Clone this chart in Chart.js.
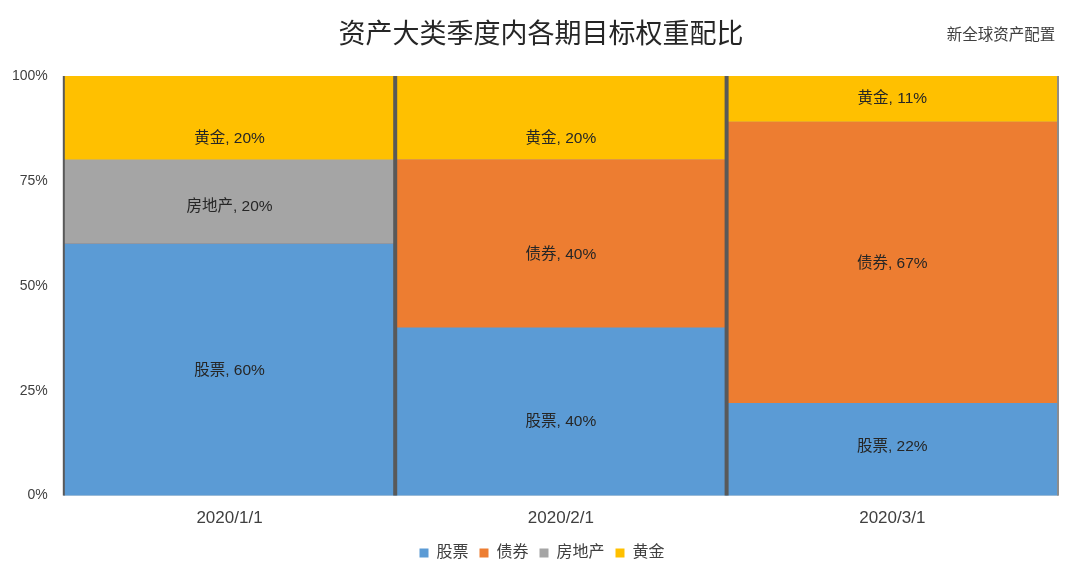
<!DOCTYPE html>
<html>
<head>
<meta charset="utf-8">
<script src="https://cdn.jsdelivr.net/npm/chart.js@4/dist/chart.umd.min.js"></script>
<style>
  html, body { margin: 0; padding: 0; background: #fff; }
  #wrap { width: 1080px; height: 580px; }
</style>
</head>
<body>
<div id="wrap"><canvas id="myChart" width="1080" height="580"></canvas></div>
<script>
const FONT = '"Liberation Sans", "Noto Sans CJK SC", sans-serif';

const dates = ["2020/1/1", "2020/2/1", "2020/3/1"];
const stocks = [60, 40, 22];
const bonds = [0, 40, 67];
const realEstate = [20, 0, 0];
const gold = [20, 20, 11];
const yTicks = [0, 25, 50, 75, 100];

const chartTitle = "资产大类季度内各期目标权重配比";
const sourceText = "新全球资产配置";

// small nudges of the in-bar labels (px, per dataset / period), like the original
const labelNudge = [[1, 10, -3], [0, 11, 1], [5, 0, 0], [21, 21, 0]];

// title, separators and in-bar labels
const extras = {
  id: "extras",
  afterDatasetsDraw(chart) {
    const c = chart.ctx;
    const area = chart.chartArea;
    c.save();
    c.textAlign = "center";
    c.textBaseline = "middle";
    c.font = "15.5px " + FONT;
    c.fillStyle = "#262626";
    chart.data.datasets.forEach((ds, i) => {
      const meta = chart.getDatasetMeta(i);
      meta.data.forEach((bar, j) => {
        const v = ds.data[j];
        if (!v) return;
        const y = (bar.y + bar.base) / 2 + labelNudge[i][j];
        c.fillText(ds.label + ", " + v + "%", bar.x, y);
      });
    });

    // vertical lines between the periods
    const meta = chart.getDatasetMeta(0);
    c.strokeStyle = "#595959";
    c.lineWidth = 4;
    for (let j = 1; j < meta.data.length; j++) {
      const x = (meta.data[j - 1].x + meta.data[j].x) / 2;
      c.beginPath();
      c.moveTo(x, area.top);
      c.lineTo(x, area.bottom);
      c.stroke();
    }
    c.lineWidth = 2;
    c.beginPath();
    c.moveTo(area.left, area.top);
    c.lineTo(area.left, area.bottom);
    c.stroke();
    c.strokeStyle = "#8c8c8c";
    c.beginPath();
    c.moveTo(area.right, area.top);
    c.lineTo(area.right, area.bottom);
    c.stroke();

    c.font = "27px " + FONT;
    c.fillStyle = "#262626";
    c.fillText(chartTitle, 541, 36);
    c.font = "15.5px " + FONT;
    c.fillStyle = "#404040";
    c.fillText(sourceText, 1001, 36);
    c.restore();
  }
};

const ctx = document.getElementById("myChart").getContext("2d");

const config = {
  type: "bar",
  data: {
    labels: dates,
    datasets: [
      { label: "股票", data: stocks, backgroundColor: "#5B9BD5" },
      { label: "债券", data: bonds, backgroundColor: "#ED7D31" },
      { label: "房地产", data: realEstate, backgroundColor: "#A5A5A5" },
      { label: "黄金", data: gold, backgroundColor: "#FFC000" },
    ],
  },
  options: {
    responsive: false,
    animation: false,
    barPercentage: 1,
    categoryPercentage: 1,
    layout: { padding: { top: 76, right: 0, left: 4, bottom: 9 } },
    scales: {
      x: {
        stacked: true,
        grid: { display: false },
        border: { color: "#d9d9d9", width: 1 },
        ticks: { color: "#404040", font: { size: 17, family: FONT }, padding: 5 },
      },
      y: {
        stacked: true,
        min: 0,
        max: 100,
        afterBuildTicks(axis) {
          axis.ticks = yTicks.map((v) => ({ value: v }));
        },
        grid: { display: false },
        border: { display: false },
        ticks: {
          color: "#404040",
          font: { size: 14, family: FONT },
          padding: 8,
          callback: (v) => v + "%",
        },
      },
      // empty right axis, only keeps a margin so the legend stays centred
      yRight: {
        type: "linear",
        position: "right",
        grid: { display: false },
        border: { display: false },
        ticks: { display: false },
        afterFit(axis) {
          axis.width = 22;
        },
      },
    },
    plugins: {
      legend: {
        position: "bottom",
        labels: {
          boxWidth: 9,
          boxHeight: 9,
          color: "#404040",
          font: { size: 16, family: FONT },
          padding: 11,
        },
      },
      tooltip: { enabled: false },
    },
  },
  plugins: [extras],
};
let myChart = new Chart(ctx, config);
</script>
</body>
</html>
